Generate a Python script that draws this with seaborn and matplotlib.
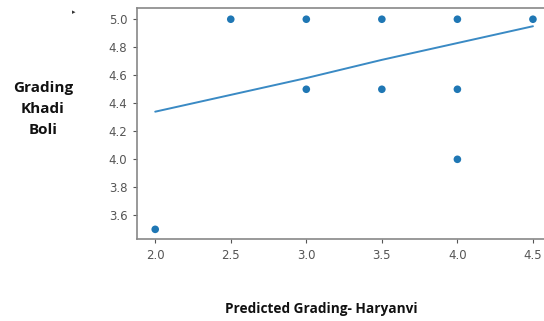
import matplotlib
matplotlib.use("Agg")
import matplotlib.pyplot as plt
import seaborn as sns

# observed grades
haryanvi = [2.0, 2.5, 3.0, 3.0, 3.5, 3.5, 4.0, 4.0, 4.0, 4.5]
khadi_boli = [3.5, 5.0, 5.0, 4.5, 5.0, 4.5, 5.0, 4.5, 4.0, 5.0]

# fitted line values
fit_x = [2.0, 2.5, 3.0, 3.5, 4.0, 4.5]
fit_y = [4.34, 4.46, 4.58, 4.71, 4.83, 4.95]

x_ticks = [2.0, 2.5, 3.0, 3.5, 4.0, 4.5]
y_ticks = [3.6, 3.8, 4.0, 4.2, 4.4, 4.6, 4.8, 5.0]

sns.set_style("ticks")

fig = plt.figure(figsize=(5.44, 3.21), dpi=100)
ax = fig.add_axes([0.252, 0.255, 0.761, 0.72])

sns.scatterplot(x=haryanvi, y=khadi_boli, ax=ax, color="#1f77b4",
                s=30, edgecolor="none", zorder=3)
sns.lineplot(x=fit_x, y=fit_y, ax=ax, color="#3a8ac4", linewidth=1.4)

ax.set_xlim(1.88, 4.62)
ax.set_ylim(3.43, 5.08)
ax.set_xticks(x_ticks)
ax.set_yticks(y_ticks)
ax.set_xticklabels([f"{t:.1f}" for t in x_ticks])
ax.set_yticklabels([f"{t:.1f}" for t in y_ticks])
ax.tick_params(labelsize=8.5, colors="#555555", length=3, width=0.8, pad=4)
for s in ax.spines.values():
    s.set_color("#888888")
    s.set_linewidth(1.2)

fig.text(43 / 544, 1 - 109 / 321, "Grading\nKhadi\nBoli", ha="center", va="center",
         fontsize=11, fontweight="bold", family="Open Sans", linespacing=1.65,
         color="#111111")
fig.text(321 / 544, 1 - 309 / 321, "Predicted Grading- Haryanvi", ha="center",
         va="center", fontsize=9.8, fontweight="bold", family="Open Sans",
         color="#111111")
fig.text(74 / 544, 1 - 12 / 321, "\u25b8", ha="center", va="center",
         fontsize=5, color="#333333")

fig.savefig("out.png", dpi=100)
